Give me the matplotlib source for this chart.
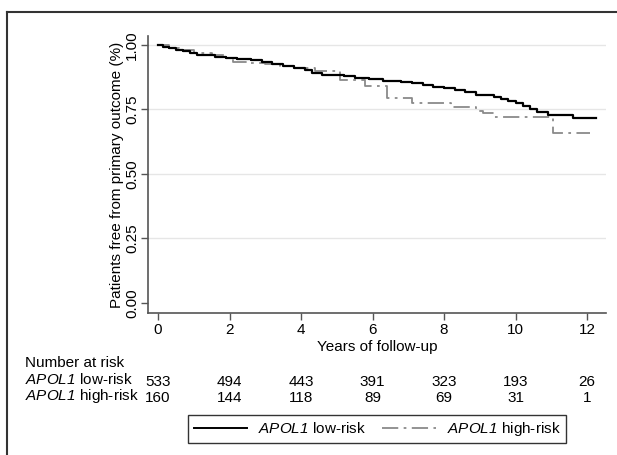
import matplotlib
matplotlib.use('Agg')
import matplotlib.pyplot as plt
import matplotlib.transforms as mtransforms
from matplotlib.lines import Line2D

plt.rcParams['font.family'] = ['Liberation Sans', 'DejaVu Sans']
plt.rcParams['mathtext.fontset'] = 'custom'
plt.rcParams['mathtext.rm'] = 'Liberation Sans'
# sf slot used for the italic gene name so the digit stays italic too
plt.rcParams['mathtext.sf'] = 'Liberation Sans:italic'

# Kaplan-Meier steps
low_t = [0, 0.15, 0.3, 0.5, 0.7, 0.9, 1.1, 1.3, 1.6, 1.9, 2.2, 2.6, 2.9, 3.2, 3.5,
         3.8, 4.1, 4.3, 4.6, 5.2, 5.5, 5.9, 6.3, 6.8, 7.1, 7.4, 7.7, 8.0, 8.3, 8.6,
         8.9, 9.4, 9.6, 9.8, 10.0, 10.2, 10.4, 10.6, 10.9, 11.6, 12.25]
low_s = [1.0, 0.993, 0.987, 0.981, 0.975, 0.970, 0.963, 0.960, 0.955, 0.950, 0.946,
         0.940, 0.933, 0.926, 0.918, 0.911, 0.902, 0.893, 0.882, 0.878, 0.872, 0.867,
         0.862, 0.858, 0.851, 0.845, 0.838, 0.832, 0.826, 0.818, 0.806, 0.800, 0.792,
         0.782, 0.775, 0.765, 0.752, 0.740, 0.729, 0.716, 0.716]
high_t = [0, 0.3, 0.6, 1.0, 1.5, 1.9, 2.1, 2.6, 3.0, 3.4, 3.8, 4.4, 5.1, 5.8, 6.4,
          7.1, 8.2, 8.9, 9.1, 9.4, 11.05, 12.08]
high_s = [1.0, 0.99, 0.98, 0.97, 0.96, 0.95, 0.933, 0.93, 0.925, 0.918, 0.91, 0.90,
          0.864, 0.841, 0.793, 0.774, 0.761, 0.742, 0.735, 0.72, 0.658, 0.658]

risk_times = [0, 2, 4, 6, 8, 10, 12]
risk_low = [533, 494, 443, 391, 323, 193, 26]
risk_high = [160, 144, 118, 89, 69, 31, 1]

APOL = r'$\mathsf{APOL1}$'
FS = 11

W, H = 617, 455
fig = plt.figure(figsize=(W / 100, H / 100), dpi=100)
fig.patch.set_facecolor('white')
ax = fig.add_axes([148 / W, 1 - 313 / H, (606 - 148) / W, (313 - 36) / H])

ax.step(low_t, low_s, where='post', color='black', lw=1.6, zorder=3)
ax.step(high_t, high_s, where='post', color='#8a8a8a', lw=1.3,
        dashes=(9, 3, 1.5, 3), zorder=2)

ax.set_xlim(-0.28, 12.53)
ax.set_ylim(-0.04, 1.035)
ax.set_xticks(risk_times)
ax.set_yticks([0, 0.25, 0.5, 0.75, 1.0])
ax.set_yticklabels(['0.00', '0.25', '0.50', '0.75', '1.00'], rotation=90, va='center')
for y in [0.25, 0.5, 0.75, 1.0]:
    ax.axhline(y, color='#e6e6e6', lw=1, zorder=0)

for s in ['top', 'right']:
    ax.spines[s].set_visible(False)
for s in ['left', 'bottom']:
    ax.spines[s].set_color('#555555')
    ax.spines[s].set_linewidth(1.2)
ax.tick_params(axis='both', colors='#555555', labelcolor='black', labelsize=FS,
               length=5, width=1)
ax.tick_params(axis='x', pad=2.5)
ax.tick_params(axis='y', pad=1.5)

ax.set_xlabel('Years of follow-up', fontsize=FS)
ax.xaxis.set_label_coords(0.5, -0.096)
ax.set_ylabel('Patients free from primary outcome (%)', fontsize=FS)
ax.yaxis.set_label_coords(-0.053, 0.5)

# number at risk table
tr = mtransforms.blended_transform_factory(ax.transData, fig.transFigure)
fig.text(25 / W, 1 - 367 / H, 'Number at risk', fontsize=FS, va='baseline')
fig.text(25 / W, 1 - 384 / H, APOL + ' low-risk', fontsize=FS, va='baseline')
fig.text(25 / W, 1 - 400 / H, APOL + ' high-risk', fontsize=FS, va='baseline')
for t, n1, n2 in zip(risk_times, risk_low, risk_high):
    fig.text(t, 1 - 386.5 / H, str(n1), transform=tr, fontsize=FS, ha='center', va='baseline')
    fig.text(t, 1 - 402.5 / H, str(n2), transform=tr, fontsize=FS, ha='center', va='baseline')

handles = [Line2D([], [], color='black', lw=1.4),
           Line2D([], [], color='#8a8a8a', lw=1.3, dashes=(9, 3, 1.5, 3))]
leg = fig.legend(handles, [APOL + ' low-risk', APOL + ' high-risk'],
                 loc='center', bbox_to_anchor=(377 / W, 1 - 429 / H), ncol=2,
                 fontsize=FS, frameon=True, fancybox=False, handlelength=3.5,
                 columnspacing=1.1, borderpad=0.35, handletextpad=0.7)
leg.get_frame().set_edgecolor('black')
leg.get_frame().set_linewidth(1)

# outer frame (left and top edges)
fig.add_artist(Line2D([7 / W, 7 / W], [0, 1 - 12 / H], transform=fig.transFigure,
                      color='#333333', lw=1.5))
fig.add_artist(Line2D([7 / W, 1], [1 - 12 / H, 1 - 12 / H], transform=fig.transFigure,
                      color='#333333', lw=1.5))

fig.savefig('out.png', dpi=100)
